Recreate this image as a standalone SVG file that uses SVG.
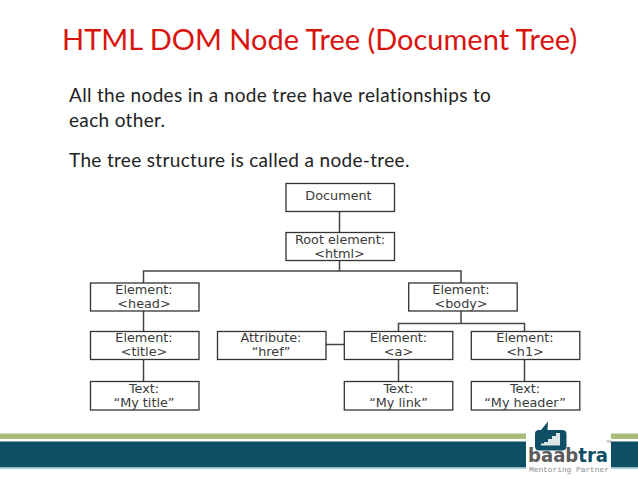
<svg xmlns="http://www.w3.org/2000/svg" width="638" height="479" viewBox="0 0 638 479">
<style>
.t{font-family:"Lato","Open Sans",sans-serif}
.h{font-size:29px;fill:#d9140f}
.b{font-size:19px;fill:#222;letter-spacing:.33px}
.n rect{fill:#fff;stroke:#333;stroke-width:1.3}
.n text{font-family:"DejaVu Sans",Verdana,sans-serif;font-size:12.8px;fill:#3a3a3a;text-anchor:middle}
.c path{fill:none;stroke:#444;stroke-width:1.5}
</style>
<rect width="638" height="479" fill="#fff"/>
<text class="t h" x="62" y="50">HTML DOM Node Tree (Document Tree)</text>
<text class="t b" x="69" y="102">All the nodes in a node tree have relationships to</text>
<text class="t b" x="69" y="127">each other.</text>
<text class="t b" x="69" y="167">The tree structure is called a node-tree.</text>
<g id="connectors" class="c">
<path d="M339.5 211V232M339.5 261V271M143.5 283V271H461V283M143.5 311V332M143.5 360V382M326 344.500H344M461 311V323.500M398.500 332V323.500H524.500V332M398.500 360V382M524.500 360V382"/>
</g>
<g id="document" class="n"><rect x="286" y="183.500" width="108.500" height="28"/><text x="338.500" y="200">Document</text></g>
<g id="root" class="n"><rect x="286" y="232.500" width="108.500" height="28"/><text x="340" y="243.500">Root element:</text><text x="339.500" y="257.500">&lt;html&gt;</text></g>
<g id="head" class="n"><rect x="90.500" y="283" width="108.500" height="28"/><text x="144" y="294">Element:</text><text x="144" y="308">&lt;head&gt;</text></g>
<g id="body" class="n"><rect x="408.700" y="283" width="108.500" height="28"/><text x="461" y="294">Element:</text><text x="461" y="308">&lt;body&gt;</text></g>
<g id="title" class="n"><rect x="90.500" y="331.500" width="108.500" height="28"/><text x="144" y="342">Element:</text><text x="144" y="356">&lt;title&gt;</text></g>
<g id="attribute" class="n"><rect x="217.500" y="331.500" width="108.500" height="28"/><text x="271" y="342">Attribute:</text><text x="271" y="356">“href”</text></g>
<g id="a" class="n"><rect x="344.300" y="331.500" width="108.500" height="28"/><text x="398.500" y="342">Element:</text><text x="398.500" y="356">&lt;a&gt;</text></g>
<g id="h1" class="n"><rect x="471.300" y="331.500" width="108.500" height="28"/><text x="525" y="342">Element:</text><text x="525" y="356">&lt;h1&gt;</text></g>
<g id="text-title" class="n"><rect x="90.500" y="381.500" width="108.500" height="28.500"/><text x="144" y="392.500">Text:</text><text x="144" y="406.500">“My title”</text></g>
<g id="text-link" class="n"><rect x="344.300" y="381.500" width="108.500" height="28.500"/><text x="398.500" y="392.500">Text:</text><text x="398.500" y="406.500">“My link”</text></g>
<g id="text-header" class="n"><rect x="471.300" y="381.500" width="108.500" height="28.500"/><text x="525" y="392.500">Text:</text><text x="525" y="406.500">“My header”</text></g>
<g id="footer">
<rect x="0" y="433.500" width="526" height="5.500" fill="#a9bc78"/><rect x="611" y="433.500" width="27" height="5.500" fill="#a9bc78"/>
<rect x="0" y="441.500" width="526" height="26" fill="#0e4f66"/><rect x="611" y="441.500" width="27" height="26" fill="#0e4f66"/>
<rect x="0" y="467.500" width="526" height="1.500" fill="#a9d0da"/><rect x="611" y="467.500" width="27" height="1.500" fill="#a9d0da"/>
<path d="M535 434Q535 430 539 430H541L548 421.500L547.500 430H562Q566.500 430 566.500 434V446Q566.500 450.500 562 450.500H539Q535 450.500 535 446Z" fill="#0e4f66"/>
<path d="M541 445.500H560V433H556V436H552V439H548V442H544V443.500H541Z" fill="#dce5e8"/>
<text x="528" y="461.500" font-family="'DejaVu Sans',sans-serif" font-weight="700" font-size="19" textLength="80" lengthAdjust="spacingAndGlyphs"><tspan fill="#5c5c5c">baab</tspan><tspan fill="#0e4f66">tra</tspan></text>
<text x="606" y="443" font-family="'Liberation Sans',sans-serif" font-size="3.500" fill="#777">TM</text>
<text x="529" y="472" font-family="'Liberation Mono',monospace" font-size="8" fill="#8a8f92" textLength="80">Mentoring Partner</text>
</g>
</svg>
